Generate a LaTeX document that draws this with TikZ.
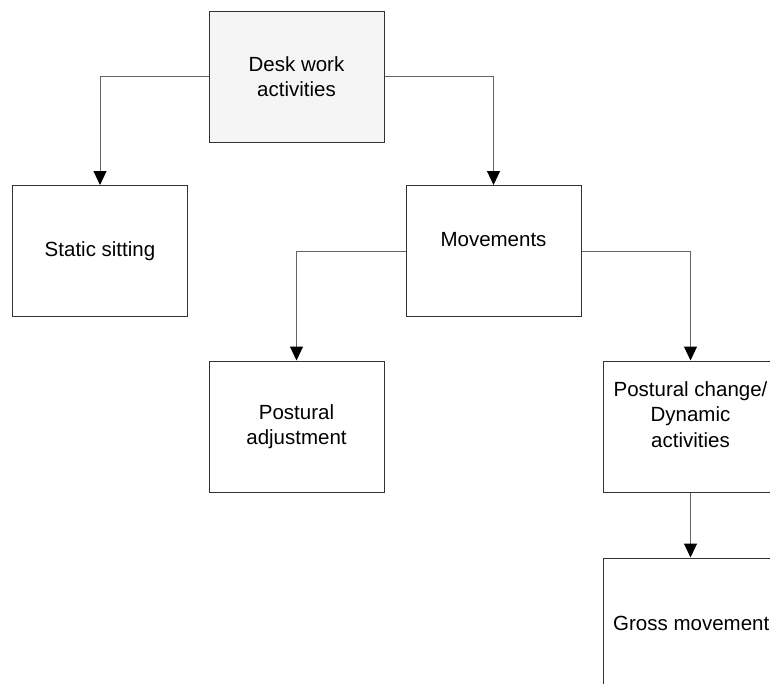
\documentclass[tikz,border=0pt]{standalone}
\usepackage{fontspec}
\setmainfont{Liberation Sans}
\usetikzlibrary{arrows.meta}
\definecolor{deskfill}{RGB}{245,245,245}
\definecolor{edge}{RGB}{50,50,50}
\definecolor{wire}{RGB}{100,100,100}
\begin{document}
\begin{tikzpicture}[x=1pt,y=-1pt,
  every node/.style={font=\fontsize{20.5}{25.5}\selectfont, align=center},
  box/.style={draw=edge, line width=1pt, minimum width=175pt, minimum height=131pt, inner sep=0pt},
  label/.style={inner sep=0pt},
  conn/.style={draw=wire, line width=1pt,
    -{Triangle[width=13pt,length=14pt,black]}}]
  \clip (0,0) rectangle (770,683);
  \fill[white] (0,0) rectangle (770,683);

  % boxes
  \node[box, fill=deskfill] (desk) at (296.5,76.5) {Desk work\\activities};
  \node[box] (static) at (100,251) {Static sitting};
  \node[box] (moves) at (493.5,251) {};
  \node[box] (adjust) at (296.5,426.5) {Postural\\adjustment};
  \node[box] (change) at (690.5,426.5) {};
  \node[box] (gross) at (690.5,623.5) {};

  % texts placed off-centre inside their boxes
  \node[label] (movestext) at (493.5,240) {Movements};
  \node[label, anchor=north] (changetext) at (690.5,381)
    {Postural change/\\Dynamic\\activities};
  \node[label, anchor=base west, align=left] (grosstext) at (613,630) {Gross movement};

  % connectors
  \draw[conn] (desk.west) -| (static.north);
  \draw[conn] (desk.east) -| (moves.north);
  \draw[conn] (moves.west) -| (adjust.north);
  \draw[conn] (moves.east) -| (change.north);
  \draw[conn] (change.south) -- (gross.north);
\end{tikzpicture}
\end{document}
